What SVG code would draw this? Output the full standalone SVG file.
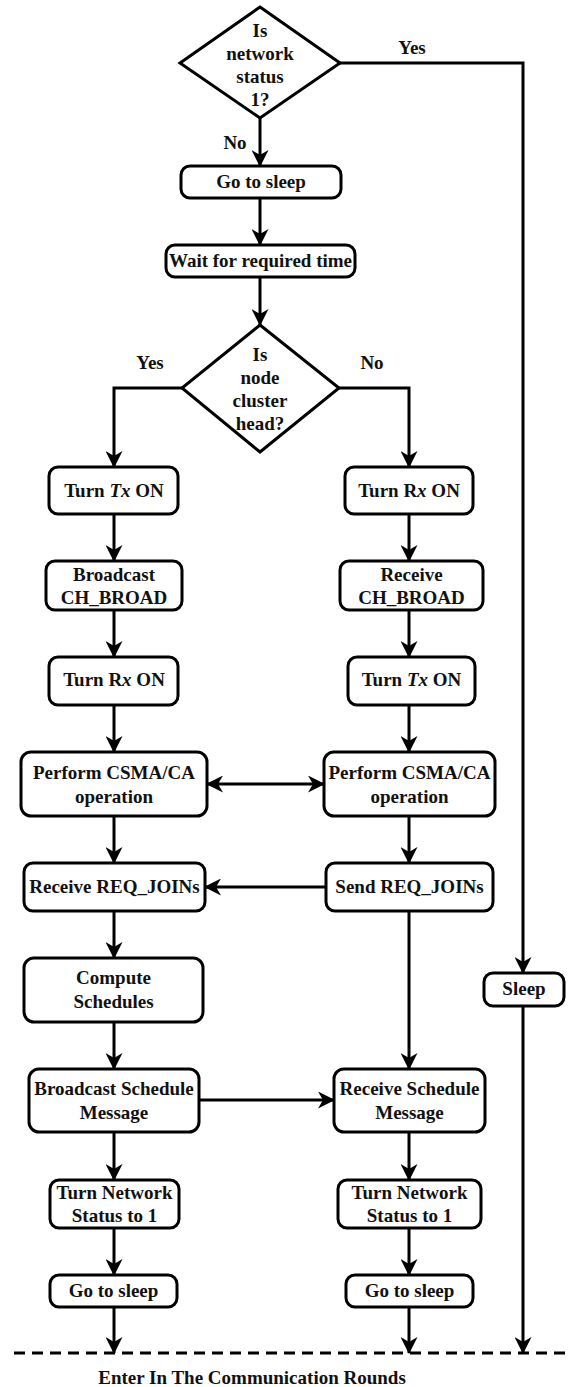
<svg xmlns="http://www.w3.org/2000/svg" width="569" height="1387" viewBox="0 0 569 1387">
  <defs>
    <marker id="arrow" viewBox="0 0 17 17" refX="16" refY="8.5" markerWidth="17" markerHeight="17" markerUnits="userSpaceOnUse" orient="auto-start-reverse">
      <path d="M0,0 L17,8.5 L0,17 L5,8.5 Z" fill="#000"/>
    </marker>
  </defs>
  <style>
    .box { fill: #fff; stroke: #000; stroke-width: 3; }
    .dec { fill: #fff; stroke: #000; stroke-width: 3; stroke-linejoin: miter; }
    .lbl { font-family: "Liberation Serif", "Times New Roman", serif; font-weight: bold; font-size: 19px; fill: #111; text-anchor: middle; }
    .edge { fill: none; stroke: #000; stroke-width: 3; marker-end: url(#arrow); }
    .it { font-style: italic; }
  </style>
  <rect width="569" height="1387" fill="#fff"/>

  <!-- connectors -->
  <g id="connectors">
    <path class="edge" d="M260,118 V166"/>
    <path class="edge" d="M260,198 V245"/>
    <path class="edge" d="M260,277 V325"/>
    <path class="edge" d="M182,388 H114 V467"/>
    <path class="edge" d="M339,388 H409 V467"/>
    <!-- cluster-head column -->
    <path class="edge" d="M114,514 V561"/>
    <path class="edge" d="M114,610 V657"/>
    <path class="edge" d="M114,705 V752"/>
    <path class="edge" d="M114,816 V863"/>
    <path class="edge" d="M114,911 V958"/>
    <path class="edge" d="M114,1022 V1069"/>
    <path class="edge" d="M114,1132 V1180"/>
    <path class="edge" d="M114,1228 V1275"/>
    <path class="edge" d="M114,1307 V1353"/>
    <!-- member column -->
    <path class="edge" d="M409,514 V561"/>
    <path class="edge" d="M409,610 V657"/>
    <path class="edge" d="M409,705 V752"/>
    <path class="edge" d="M409,816 V863"/>
    <path class="edge" d="M409,911 V1069"/>
    <path class="edge" d="M409,1132 V1180"/>
    <path class="edge" d="M409,1228 V1275"/>
    <path class="edge" d="M409,1307 V1353"/>
    <!-- cross links -->
    <path class="edge" d="M207,784 H324" marker-start="url(#arrow)"/>
    <path class="edge" d="M326,887 H205"/>
    <path class="edge" d="M199,1100 H334"/>
    <!-- already-configured branch -->
    <path class="edge" d="M340,63 H523 V973"/>
    <path class="edge" d="M523,1006 V1353"/>
    <!-- round boundary -->
    <line x1="14" y1="1353" x2="569" y2="1353" stroke="#000" stroke-width="3" stroke-dasharray="11 7"/>
  </g>

  <g id="d-network-status">
    <polygon class="dec" points="260,7 340,63 260,118 180,63"/>
    <text class="lbl" x="260" y="37">Is</text>
    <text class="lbl" x="260" y="60">network</text>
    <text class="lbl" x="260" y="83">status</text>
    <text class="lbl" x="260" y="106">1?</text>
  </g>
  <text class="lbl" x="412" y="54">Yes</text>
  <text class="lbl" x="235" y="149">No</text>

  <g id="n-sleep-1">
    <rect class="box" x="181" y="166" width="160" height="32" rx="9"/>
    <text class="lbl" x="261" y="188">Go to sleep</text>
  </g>
  <g id="n-wait">
    <rect class="box" x="166" y="245" width="189" height="32" rx="9"/>
    <text class="lbl" x="260.5" y="267">Wait for required time</text>
  </g>

  <g id="d-cluster-head">
    <polygon class="dec" points="260,325 339,388 260,452 182,388"/>
    <text class="lbl" x="260" y="361">Is</text>
    <text class="lbl" x="260" y="384">node</text>
    <text class="lbl" x="260" y="407">cluster</text>
    <text class="lbl" x="260" y="430">head?</text>
  </g>
  <text class="lbl" x="150" y="369">Yes</text>
  <text class="lbl" x="372" y="369">No</text>

  <!-- cluster-head column -->
  <g id="n-ch-tx-on">
    <rect class="box" x="49" y="467" width="129" height="47" rx="9"/>
    <text class="lbl" x="114" y="497">Turn <tspan class="it">Tx</tspan> ON</text>
  </g>
  <g id="n-ch-broadcast">
    <rect class="box" x="46" y="561" width="136" height="49" rx="9"/>
    <text class="lbl" x="114" y="581">Broadcast</text>
    <text class="lbl" x="114" y="604">CH_BROAD</text>
  </g>
  <g id="n-ch-rx-on">
    <rect class="box" x="49" y="657" width="129" height="48" rx="9"/>
    <text class="lbl" x="114" y="686">Turn R<tspan class="it">x</tspan> ON</text>
  </g>
  <g id="n-ch-csma">
    <rect class="box" x="21" y="752" width="186" height="64" rx="10"/>
    <text class="lbl" x="114" y="779">Perform CSMA/CA</text>
    <text class="lbl" x="114" y="803">operation</text>
  </g>
  <g id="n-ch-req">
    <rect class="box" x="24" y="863" width="181" height="48" rx="9"/>
    <text class="lbl" x="114.5" y="893">Receive REQ_JOINs</text>
  </g>
  <g id="n-ch-compute">
    <rect class="box" x="24" y="958" width="179" height="64" rx="10"/>
    <text class="lbl" x="113.5" y="984">Compute</text>
    <text class="lbl" x="113.5" y="1008">Schedules</text>
  </g>
  <g id="n-ch-sched">
    <rect class="box" x="29" y="1069" width="170" height="63" rx="10"/>
    <text class="lbl" x="114" y="1095">Broadcast Schedule</text>
    <text class="lbl" x="114" y="1119">Message</text>
  </g>
  <g id="n-ch-status">
    <rect class="box" x="50" y="1180" width="129" height="48" rx="9"/>
    <text class="lbl" x="114.5" y="1199">Turn Network</text>
    <text class="lbl" x="114.5" y="1222">Status to 1</text>
  </g>
  <g id="n-ch-sleep">
    <rect class="box" x="50" y="1275" width="127" height="32" rx="9"/>
    <text class="lbl" x="113.5" y="1297">Go to sleep</text>
  </g>

  <!-- member column -->
  <g id="n-m-rx-on">
    <rect class="box" x="345" y="467" width="128" height="47" rx="9"/>
    <text class="lbl" x="409" y="497">Turn R<tspan class="it">x</tspan> ON</text>
  </g>
  <g id="n-m-receive">
    <rect class="box" x="340" y="561" width="143" height="49" rx="9"/>
    <text class="lbl" x="411.5" y="581">Receive</text>
    <text class="lbl" x="411.5" y="604">CH_BROAD</text>
  </g>
  <g id="n-m-tx-on">
    <rect class="box" x="348" y="657" width="127" height="48" rx="9"/>
    <text class="lbl" x="411.5" y="686">Turn <tspan class="it">Tx</tspan> ON</text>
  </g>
  <g id="n-m-csma">
    <rect class="box" x="324" y="752" width="171" height="64" rx="10"/>
    <text class="lbl" x="409.5" y="779">Perform CSMA/CA</text>
    <text class="lbl" x="409.5" y="803">operation</text>
  </g>
  <g id="n-m-req">
    <rect class="box" x="326" y="863" width="167" height="48" rx="9"/>
    <text class="lbl" x="409.5" y="893">Send REQ_JOINs</text>
  </g>
  <g id="n-m-sched">
    <rect class="box" x="334" y="1069" width="151" height="63" rx="10"/>
    <text class="lbl" x="409.5" y="1095">Receive Schedule</text>
    <text class="lbl" x="409.5" y="1119">Message</text>
  </g>
  <g id="n-m-status">
    <rect class="box" x="338" y="1180" width="143" height="48" rx="9"/>
    <text class="lbl" x="409.5" y="1199">Turn Network</text>
    <text class="lbl" x="409.5" y="1222">Status to 1</text>
  </g>
  <g id="n-m-sleep">
    <rect class="box" x="346" y="1275" width="127" height="32" rx="9"/>
    <text class="lbl" x="409.5" y="1297">Go to sleep</text>
  </g>

  <g id="n-sleep">
    <rect class="box" x="484" y="973" width="80" height="33" rx="9"/>
    <text class="lbl" x="524" y="995">Sleep</text>
  </g>

  <text class="lbl" x="252" y="1384">Enter In The Communication Rounds</text>
</svg>
